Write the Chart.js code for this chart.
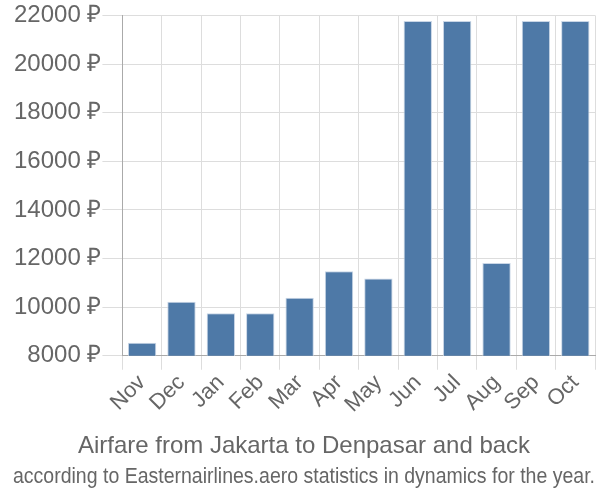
<!DOCTYPE html>
<html>
<head>
<meta charset="utf-8">
<script src="https://cdn.jsdelivr.net/npm/chart.js@4"></script>
<style>
html,body{margin:0;padding:0;background:#fff;}
#wrap{width:600px;height:500px;}
</style>
</head>
<body>
<div id="wrap"><canvas id="c"></canvas></div>
<script>
// data
const months=['Nov','Dec','Jan','Feb','Mar','Apr','May','Jun','Jul','Aug','Sep','Oct'];
const fares=[8530,10220,9750,9750,10390,11480,11180,21770,21770,11810,21770,21770];
const yTicks=[8000,10000,12000,14000,16000,18000,20000,22000];

const font="'Liberation Sans', Arial, sans-serif";
Chart.defaults.font.family=font;
Chart.defaults.color='#666';

new Chart(document.getElementById('c'),{
  type:'bar',
  data:{labels:months,datasets:[{data:fares,backgroundColor:'#4e79a7',borderColor:'#c9d6e6',borderWidth:1,
    barPercentage:0.9,categoryPercentage:0.8}]},
  options:{
    responsive:true,maintainAspectRatio:false,animation:false,
    layout:{padding:{top:4,right:5,left:13,bottom:10}},
    plugins:{
      legend:{display:false},tooltip:{enabled:false},
      title:{display:true,position:'bottom',weight:1000,text:'Airfare from Jakarta to Denpasar and back',
        font:{size:24,weight:'normal'},color:'#666',padding:{top:14,bottom:3}},
      subtitle:{display:true,position:'bottom',weight:1500,text:'according to Easternairlines.aero statistics in dynamics for the year.',
        font:{size:22},color:'#666',padding:{top:0,bottom:0}}
    },
    scales:{
      x:{grid:{color:'#ddd',offset:true,tickLength:14},border:{color:'#aaa'},
        ticks:{font:{size:22},color:'#666',maxRotation:45,minRotation:45,padding:0,autoSkip:false}},
      y:{min:8000,max:22000,afterBuildTicks:s=>{s.ticks=yTicks.map(v=>({value:v}));},
        grid:{color:'#ddd',tickLength:20},border:{color:'#aaa'},
        ticks:{font:{size:24},color:'#666',padding:1,callback:v=>v+' ₽'}}
    }
  }
});
</script>
</body>
</html>
